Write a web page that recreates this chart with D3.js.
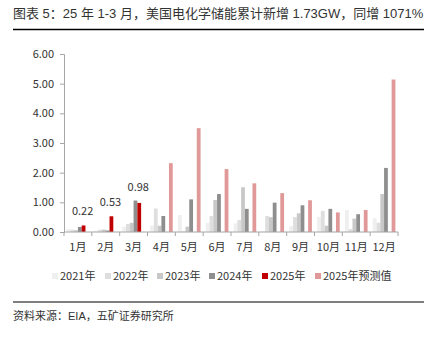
<!DOCTYPE html>
<html>
<head>
<meta charset="utf-8">
<script src="https://cdn.jsdelivr.net/npm/d3@7/dist/d3.min.js"></script>
<style>
  html, body { margin: 0; padding: 0; background: #fff; }
  svg { display: block; font-family: "Noto Sans CJK SC", "Noto Sans", sans-serif; }
</style>
</head>
<body>
<svg id="chart" width="429" height="344"></svg>
<script>
// Monthly US electrochemical storage additions (GW)
const months = ["1月","2月","3月","4月","5月","6月","7月","8月","9月","10月","11月","12月"];
const seriesNames = ["2021年","2022年","2023年","2024年","2025年","2025年预测值"];
const v2021 = [0.10, 0.04, 0.18, 0.22, 0.57, 0.31, 0.29, 0.02, 0.20, 0.51, 0.74, 0.46];
const v2022 = [0.08, 0.08, 0.27, 0.79, 0.02, 0.54, 0.40, 0.54, 0.50, 0.71, 0.10, 0.31];
const v2023 = [0.06, 0.08, 0.31, 0.21, 0.18, 1.08, 1.51, 0.50, 0.63, 0.21, 0.45, 1.28];
const v2024 = [0.17, 0.05, 1.06, 0.54, 1.10, 1.28, 0.78, 0.99, 0.90, 0.78, 0.60, 2.16];
const v2025 = [0.22, 0.53, 0.98, 0, 0, 0, 0, 0, 0, 0, 0, 0];
const v2025f = [0, 0, 0, 2.32, 3.50, 2.12, 1.64, 1.31, 1.07, 0.66, 0.74, 5.14];
const yTicks = [0, 1, 2, 3, 4, 5, 6];
const colors = ["#efefef", "#dedede", "#c8c8c8", "#8e8e8e", "#c00000", "#e09898"];
const seriesValues = [v2021, v2022, v2023, v2024, v2025, v2025f];

const svg = d3.select("#chart");
const textColor = "#333";
const mixedFont = "'Liberation Sans', 'Noto Sans CJK SC', sans-serif";

// Title and rule
svg.append("text")
  .attr("x", 13).attr("y", 18)
  .attr("font-size", 13).attr("fill", textColor)
  .attr("font-family", mixedFont)
  .text("图表 5：25 年 1-3 月，美国电化学储能累计新增 1.73GW，同增 1071%");
svg.append("line")
  .attr("x1", 13).attr("x2", 424).attr("y1", 29.5).attr("y2", 29.5)
  .attr("stroke", "#000").attr("stroke-width", 1.5);

const margin = { left: 64, right: 398, top: 54, bottom: 232 };

const x0 = d3.scaleBand().domain(months).range([margin.left, margin.right]).padding(0);
const inset = 2.6;
const x1 = d3.scaleBand().domain(d3.range(seriesNames.length))
  .range([inset, x0.bandwidth() - inset]).padding(0);
const y = d3.scaleLinear().domain([0, 6]).range([margin.bottom, margin.top]);

// Bars
const groups = svg.append("g").selectAll("g")
  .data(months)
  .join("g")
  .attr("transform", d => `translate(${x0(d)},0)`);

groups.selectAll("rect")
  .data((m, i) => seriesValues.map((vals, s) => ({ s, v: vals[i] })))
  .join("rect")
  .attr("x", d => x1(d.s))
  .attr("width", x1.bandwidth())
  .attr("y", d => y(d.v))
  .attr("height", d => y(0) - y(d.v))
  .attr("fill", d => colors[d.s]);

// Value labels on actual 2025 bars
svg.append("g").selectAll("text")
  .data(months.map((m, i) => ({ m, v: v2025[i] })).filter(d => d.v > 0))
  .join("text")
  .attr("x", d => x0(d.m) + x1(4) + x1.bandwidth() / 2 - 1)
  .attr("y", d => Math.min(y(d.v), y(v2024[months.indexOf(d.m)])) - 10)
  .attr("text-anchor", "middle")
  .attr("font-size", 11).attr("fill", textColor)
  .text(d => d.v.toFixed(2));

// Y axis
const yAxis = d3.axisLeft(y).tickValues(yTicks).tickFormat(d3.format(".2f")).tickSize(4).tickPadding(6);
const gy = svg.append("g").attr("transform", `translate(${margin.left},0)`).call(yAxis);
gy.select(".domain").attr("stroke", "#a6a6a6");
gy.selectAll(".tick line").attr("stroke", "#a6a6a6");
gy.selectAll(".tick text").attr("font-size", 11).attr("fill", textColor)
  .attr("font-family", "'Noto Sans CJK SC', sans-serif");

// X axis: boundary ticks between months
const gx = svg.append("g").attr("transform", `translate(0,${margin.bottom})`);
gx.append("line")
  .attr("x1", margin.left).attr("x2", margin.right)
  .attr("stroke", "#a6a6a6");
gx.selectAll("line.tk")
  .data(months.map(m => x0(m)).concat([margin.right]))
  .join("line").attr("class", "tk")
  .attr("x1", d => d).attr("x2", d => d)
  .attr("y1", 0).attr("y2", 4)
  .attr("stroke", "#a6a6a6");
gx.selectAll("text")
  .data(months)
  .join("text")
  .attr("x", d => x0(d) + x0.bandwidth() / 2)
  .attr("y", 19)
  .attr("text-anchor", "middle")
  .attr("font-size", 11).attr("fill", textColor)
  .text(d => d);

// Legend
const legendX = [52, 105, 157, 209, 262, 315];
const legend = svg.append("g").selectAll("g")
  .data(seriesNames)
  .join("g")
  .attr("transform", (d, i) => `translate(${legendX[i]},276)`);
legend.append("rect")
  .attr("x", 0).attr("y", -3).attr("width", 6).attr("height", 6)
  .attr("fill", (d, i) => colors[i]);
legend.append("text")
  .attr("x", 8).attr("y", 4)
  .attr("font-size", 11).attr("fill", textColor)
  .text(d => d);

// Footer
svg.append("line")
  .attr("x1", 13).attr("x2", 424).attr("y1", 302).attr("y2", 302)
  .attr("stroke", "#000").attr("stroke-width", 1.2);
svg.append("text")
  .attr("x", 13).attr("y", 320)
  .attr("font-size", 11).attr("fill", textColor)
  .attr("font-family", mixedFont)
  .text("资料来源：EIA，五矿证券研究所");
</script>
</body>
</html>
